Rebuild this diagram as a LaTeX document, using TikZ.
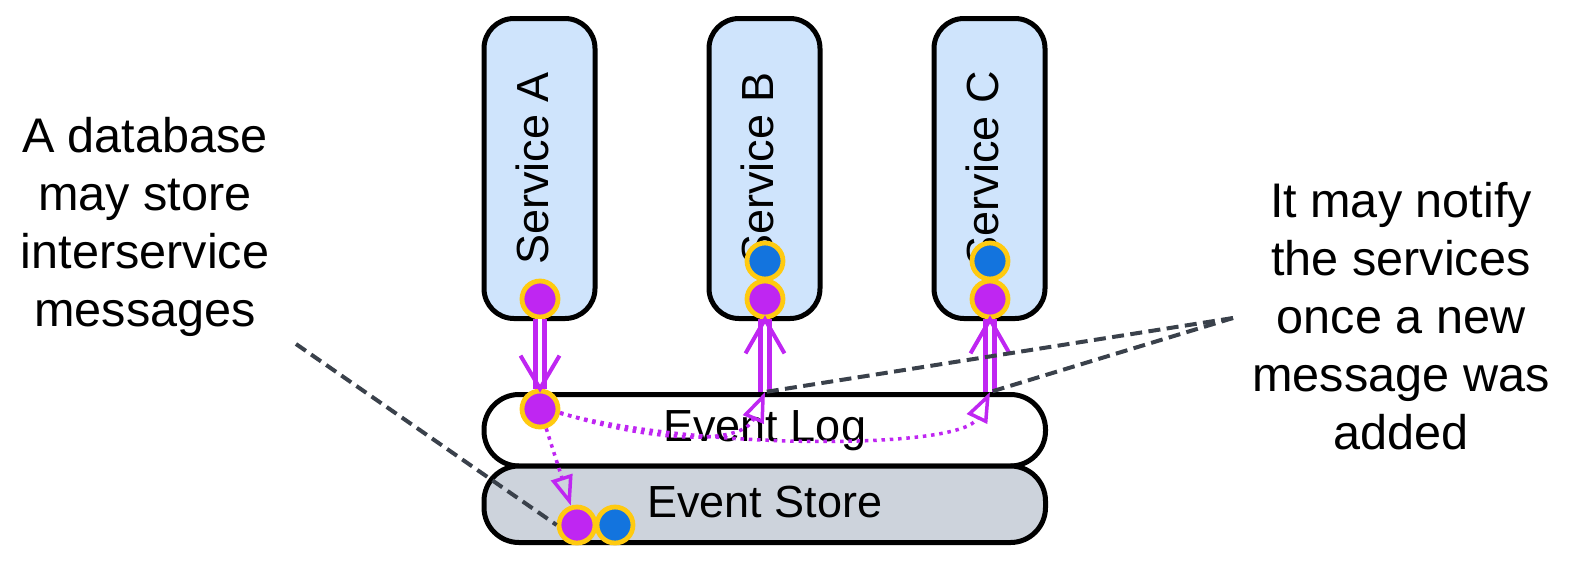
\documentclass[tikz,border=0pt]{standalone}
\usepackage{fontspec}
\setmainfont{Liberation Sans}
\usetikzlibrary{arrows.meta,calc}
\definecolor{svcfill}{HTML}{CFE4FC}
\definecolor{storefill}{HTML}{CDD3DC}
\definecolor{purp}{HTML}{BF26F2}
\definecolor{bluedot}{HTML}{1374DE}
\definecolor{ring}{HTML}{FFCA10}
\definecolor{dashgray}{HTML}{3A414B}
\begin{document}
\begin{tikzpicture}[x=0.5pt,y=-0.5pt,
  svc/.style={draw=black, line width=2.5pt, fill=svcfill, rounded corners=15pt,
    rotate=90, minimum width=150pt, minimum height=55.5pt, inner sep=0pt,
    font=\fontsize{22.5pt}{27pt}\selectfont, text height=16pt, text depth=7.5pt},
  logbox/.style={draw=black, line width=2.5pt, rounded corners=17.5pt,
    minimum width=280.75pt, inner sep=0pt, font=\fontsize{22.5pt}{27pt}\selectfont},
  dotp/.style={circle, draw=ring, line width=2.4pt, fill=purp, minimum size=18pt, inner sep=0pt},
  dotb/.style={circle, draw=ring, line width=2.4pt, fill=bluedot, minimum size=18pt, inner sep=0pt},
  dbl/.style={draw=purp, line width=2.15pt, double=white, double distance=2.3pt},
  vhead/.style={draw=purp, line width=2pt, line join=miter},
  dotline/.style={draw=purp, line width=1.75pt, dash pattern=on 1.75pt off 2.4pt,
    -{Triangle[open, length=15pt, width=11pt]}},
  notedash/.style={draw=dashgray, line width=2pt, dash pattern=on 6pt off 3.2pt},
  note/.style={align=center, inner sep=0pt, font=\fontsize{24.3pt}{29pt}\selectfont}
]
\useasboundingbox (0,0) rectangle (1575,564);

% event log and store
\node[logbox, fill=white, minimum height=35.75pt] (elog) at (764.75,430.25) {Event Log};
\node[logbox, fill=storefill, minimum height=38.25pt, text height=16pt, text depth=3pt] (estore) at (764.75,504.25) {Event Store};

% services
\node[svc] (sa) at (539.5,168.5) {Service A};
\node[svc] (sb) at (764.5,168.5) {Service B};
\node[svc] (sc) at (989.5,168.5) {Service C};

% message dots
\node[dotp] (acirc) at (540,299) {};
\node[dotb] (bblue) at (765,261) {};
\node[dotp] (bpurp) at (765,299) {};
\node[dotb] (cblue) at (990,261) {};
\node[dotp] (cpurp) at (990,299) {};
\node[dotp] (lcirc) at (540,409) {};
\node[dotp] (spurp) at (577,525) {};
\node[dotb] (sblue) at (615,525) {};

% connection points on the event log
\coordinate (lb) at (bpurp |- elog.north);
\coordinate (lc) at (cpurp |- elog.north);

% dotted propagation
\draw[dotline] (lcirc.-10) .. controls (650,442) and (742,446) .. (lb);
\draw[dotline] (lcirc.-12) .. controls (700,450) and (962,450) .. (lc);
\draw[dotline] (lcirc) -- (spurp);

% double arrows
\draw[dbl] (acirc.south) -- (lcirc.north);
\draw[vhead] ($(lcirc.north)+(-19.5,-33)$) -- (lcirc.north) -- ($(lcirc.north)+(19.5,-33)$);
\draw[dbl] (lb) -- (bpurp.south);
\draw[vhead] ($(bpurp.south)+(-19.5,34)$) -- (bpurp.south) -- ($(bpurp.south)+(19.5,34)$);
\draw[dbl] (lc) -- (cpurp.south);
\draw[vhead] ($(cpurp.south)+(-19.5,34)$) -- (cpurp.south) -- ($(cpurp.south)+(19.5,34)$);

% notes
\node[note] (ltext) at (145,226.5) {A database\\may store\\interservice\\messages};
\node[note] (rtext) at (1401,316.5) {It may notify\\the services\\once a new\\message was\\added};

\coordinate (lnote) at (296,344);
\coordinate (rnote) at (1233,318);
\draw[notedash] (lnote) -- (spurp.west);
\draw[notedash] (rnote) -- (lb);
\draw[notedash] (rnote) -- (lc);
\end{tikzpicture}
\end{document}
